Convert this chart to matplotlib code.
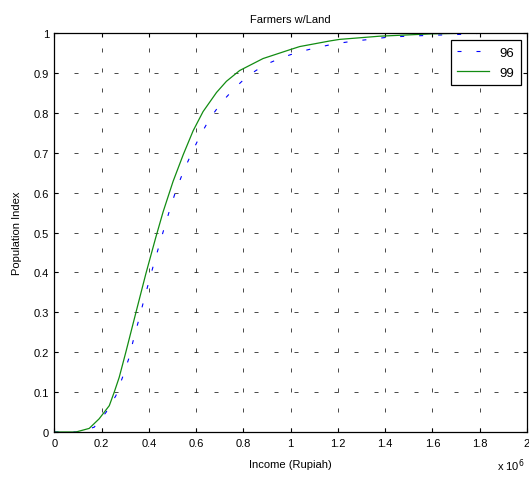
import numpy as np
import matplotlib
matplotlib.use("Agg")
import matplotlib.pyplot as plt

plt.rcParams["font.family"] = ["Liberation Sans", "DejaVu Sans"]

# income in units of 1e6 Rupiah, cumulative population index
x96 = [0.0, 0.1, 0.168, 0.218, 0.26, 0.288, 0.314, 0.335, 0.356, 0.377, 0.398, 0.419,
       0.441, 0.464, 0.488, 0.514, 0.545, 0.58, 0.615, 0.657, 0.707, 0.763, 0.819,
       0.89, 0.961, 1.031, 1.101, 1.178, 1.257, 1.334, 1.419, 1.579, 1.743, 1.82]
y96 = [0.0, 0.0, 0.012, 0.049, 0.091, 0.137, 0.183, 0.233, 0.279, 0.327, 0.373, 0.418,
       0.463, 0.51, 0.557, 0.605, 0.652, 0.698, 0.741, 0.785, 0.826, 0.862, 0.893,
       0.92, 0.938, 0.952, 0.962, 0.972, 0.979, 0.984, 0.99, 0.994, 0.997, 1.0]
x99 = [0.0, 0.091, 0.147, 0.189, 0.232, 0.253, 0.274, 0.302, 0.345, 0.387, 0.429,
       0.46, 0.502, 0.545, 0.587, 0.629, 0.686, 0.728, 0.784, 0.883, 0.996, 1.038,
       1.165, 1.207, 1.376, 1.60, 1.80]
y99 = [0.0, 0.0, 0.009, 0.033, 0.066, 0.10, 0.137, 0.20, 0.30, 0.397, 0.488,
       0.552, 0.628, 0.695, 0.755, 0.803, 0.851, 0.879, 0.906, 0.936, 0.958, 0.966,
       0.980, 0.984, 0.992, 0.998, 1.0]

fig = plt.figure(figsize=(5.29, 4.81), dpi=100)
ax = fig.add_axes([0.103, 0.0998, 0.893, 0.8295])

ax.plot(x96, y96, color="blue", linestyle=(0, (3.6, 13.5)), linewidth=0.8, label="96")
ax.plot(x99, y99, color="#128c12", linestyle="-", linewidth=0.9, label="99")

ax.set_xlim(0, 2)
ax.set_ylim(0, 1)
ax.set_xticks(np.arange(0, 2.01, 0.2))
ax.set_xticklabels(["0", "0.2", "0.4", "0.6", "0.8", "1", "1.2", "1.4", "1.6", "1.8", "2"])
ax.set_yticks(np.arange(0, 1.01, 0.1))
ax.set_yticklabels(["0", "0.1", "0.2", "0.3", "0.4", "0.5", "0.6", "0.7", "0.8", "0.9", "1"])
ax.tick_params(direction="in", length=3, width=0.8, top=True, right=True, labelsize=8, pad=4)
ax.grid(True, color="black", linestyle=(0, (5.8, 23)), linewidth=0.5)
for s in ax.spines.values():
    s.set_linewidth(0.9)

ax.set_title("Farmers w/Land", fontsize=8, pad=8)
ax.set_xlabel("Income (Rupiah)", fontsize=8, labelpad=8)
ax.set_ylabel("Population Index", fontsize=8, labelpad=8)
fig.text(0.94, 0.022, "x 10$^6$", fontsize=8, ha="left", va="baseline")

leg = ax.legend(loc="upper right", bbox_to_anchor=(0.987, 0.982), borderaxespad=0,
                fontsize=9.5, frameon=True, fancybox=False, framealpha=1,
                edgecolor="black", handlelength=2.4, handletextpad=0.8,
                borderpad=0.5, labelspacing=0.55)
leg.get_frame().set_linewidth(0.9)

fig.savefig("out.png", dpi=100)
